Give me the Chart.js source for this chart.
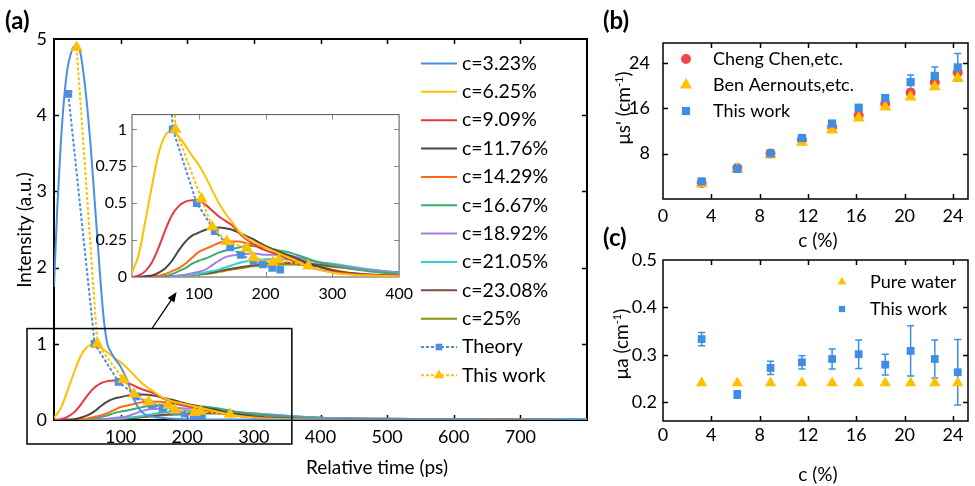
<!DOCTYPE html>
<html>
<head>
<meta charset="utf-8">
<script src="https://cdn.jsdelivr.net/npm/chart.js@4.4.1/dist/chart.umd.min.js"></script>
<style>
  body { margin: 0; background: #fff; }
  #wrap { position: relative; width: 975px; height: 486px; overflow: hidden; font-family: Lato, "Open Sans", sans-serif; }
  canvas { position: absolute; }
  .tag { position: absolute; font-weight: bold; font-size: 24px; line-height: 1; color: #000; }
  .title { position: absolute; transform: translate(-50%, -50%); white-space: nowrap; font-size: 19px; line-height: 1; color: #000; }
  .rot { transform: translate(-50%, -50%) rotate(-90deg); }
  sup { font-size: 11px; vertical-align: 7px; line-height: 0; }
</style>
</head>
<body>
<div id="wrap">
  <canvas id="mainChart" width="600" height="486" style="left:0;top:0"></canvas>
  <canvas id="insetChart" width="340" height="210" style="left:80px;top:100px"></canvas>
  <canvas id="musChart" width="375" height="252" style="left:600px;top:0"></canvas>
  <canvas id="muaChart" width="375" height="256" style="left:600px;top:230px"></canvas>

  <div class="tag" style="left:5px;top:8px">(a)</div>
  <div class="tag" style="left:603px;top:8px">(b)</div>
  <div class="tag" style="left:603px;top:225px">(c)</div>

  <div class="title" style="left:377px;top:466px">Relative time (ps)</div>
  <div class="title rot" style="left:23px;top:230px">Intensity (a.u.)</div>
  <div class="title" style="left:818px;top:239px">c (%)</div>
  <div class="title rot" style="left:622px;top:108px">μs' (cm<sup>-1</sup>)</div>
  <div class="title" style="left:818px;top:473px">c (%)</div>
  <div class="title rot" style="left:620px;top:344px">μa (cm<sup>-1</sup>)</div>
</div>

<script>
const FONT = 'Lato, "Open Sans", sans-serif';

// ---- panel (a): time-resolved curves ----
const timePs = [0, 10, 20, 30, 40, 50, 60, 70, 80, 90, 100, 110, 120, 130, 140, 150, 160, 170, 180, 190, 200,
  220, 240, 260, 280, 300, 330, 360, 400, 500, 600, 700, 800];
const timeC323 = [0, 5, 10, 15, 20, 25, 30, 35, 40, 45, 50, 55, 60, 65, 70, 75, 80, 85, 90,
  100, 110, 120, 130, 140, 160, 200, 300, 400, 500, 600, 700, 800];

const intC323 = [1.75, 2.8, 3.6, 4.2, 4.6, 4.8, 4.9, 4.9, 4.8, 4.5, 4.1, 3.6, 3.0, 2.4, 1.8, 1.3, 1.0, 0.9, 0.82,
  0.7, 0.52, 0.27, 0.12, 0.06, 0.03, 0.01, 0.005, 0.003, 0.002, 0.002, 0.001, 0.001];
const intC625 = [0.03, 0.15, 0.38, 0.62, 0.84, 0.96, 0.99, 0.95, 0.89, 0.82, 0.76, 0.68, 0.59, 0.5, 0.43, 0.37, 0.31, 0.27, 0.24, 0.22, 0.2,
  0.16, 0.12, 0.08, 0.05, 0.03, 0.015, 0.01, 0.005, 0.003, 0.002, 0.002, 0.001];
const intC909 = [0, 0.01, 0.04, 0.1, 0.2, 0.32, 0.42, 0.48, 0.51, 0.52, 0.52, 0.49, 0.45, 0.41, 0.38, 0.35, 0.3, 0.26, 0.23, 0.2, 0.18,
  0.15, 0.11, 0.08, 0.05, 0.035, 0.02, 0.015, 0.01, 0.005, 0.003, 0.002, 0.001];
const intC1176 = [0, 0, 0.005, 0.01, 0.03, 0.06, 0.11, 0.18, 0.24, 0.28, 0.3, 0.32, 0.33, 0.335, 0.33, 0.32, 0.3, 0.28, 0.26, 0.235, 0.21,
  0.17, 0.14, 0.1, 0.07, 0.045, 0.025, 0.015, 0.006, 0.004, 0.003, 0.002, 0.001];
const intC1429 = [0, 0, 0, 0.003, 0.008, 0.02, 0.04, 0.06, 0.09, 0.13, 0.17, 0.19, 0.21, 0.23, 0.24, 0.24, 0.24, 0.23, 0.22, 0.21, 0.2,
  0.17, 0.13, 0.1, 0.07, 0.05, 0.025, 0.012, 0.005, 0.003, 0.002, 0.002, 0.001];
const intC1667 = [0, 0, 0, 0, 0.002, 0.005, 0.02, 0.04, 0.06, 0.09, 0.11, 0.125, 0.145, 0.165, 0.18, 0.19, 0.2, 0.21, 0.21, 0.205, 0.2,
  0.18, 0.16, 0.13, 0.1, 0.08, 0.055, 0.035, 0.02, 0.01, 0.006, 0.004, 0.003];
const intC1892 = [0, 0, 0, 0, 0, 0.002, 0.005, 0.01, 0.015, 0.025, 0.035, 0.05, 0.08, 0.11, 0.135, 0.145, 0.15, 0.155, 0.16, 0.155, 0.15,
  0.15, 0.14, 0.12, 0.1, 0.085, 0.065, 0.045, 0.025, 0.012, 0.008, 0.006, 0.004];
const intC2105 = [0, 0, 0, 0, 0, 0, 0.002, 0.005, 0.01, 0.015, 0.02, 0.03, 0.04, 0.05, 0.065, 0.08, 0.095, 0.105, 0.112, 0.117, 0.12,
  0.12, 0.12, 0.11, 0.1, 0.09, 0.07, 0.05, 0.03, 0.015, 0.01, 0.008, 0.005];
const intC2308 = [0, 0, 0, 0, 0, 0.002, 0.005, 0.008, 0.012, 0.015, 0.02, 0.025, 0.03, 0.04, 0.05, 0.058, 0.065, 0.072, 0.078, 0.085, 0.09,
  0.095, 0.095, 0.09, 0.085, 0.075, 0.06, 0.045, 0.03, 0.015, 0.01, 0.008, 0.005];
const intC25 = [0, 0, 0, 0, 0, 0, 0.003, 0.005, 0.008, 0.01, 0.015, 0.02, 0.025, 0.035, 0.043, 0.05, 0.058, 0.065, 0.072, 0.077, 0.08,
  0.085, 0.085, 0.08, 0.075, 0.07, 0.055, 0.045, 0.03, 0.015, 0.01, 0.008, 0.005];

const curveLabels = ['c=3.23%', 'c=6.25%', 'c=9.09%', 'c=11.76%', 'c=14.29%', 'c=16.67%', 'c=18.92%', 'c=21.05%', 'c=23.08%', 'c=25%'];
const curveValues = [intC323, intC625, intC909, intC1176, intC1429, intC1667, intC1892, intC2105, intC2308, intC25];
const curveColors = ['#4a8fe3', '#ffc000', '#e8383d', '#484848', '#ff6a13', '#3aae6c', '#a97ddf', '#2fd0d0', '#7d4e43', '#8f8f0c'];

// peak markers (one per concentration)
const theoryTime = [21.5, 61, 97, 124, 147, 163, 182, 196, 210, 222];
const theoryInt = [4.28, 1.0, 0.5, 0.31, 0.2, 0.15, 0.11, 0.085, 0.062, 0.05];
const workTime = [34, 65, 104, 120, 142, 172, 182, 211, 220, 264];
const workInt = [4.89, 1.0, 0.53, 0.34, 0.24, 0.195, 0.13, 0.1, 0.115, 0.075];

// ---- panels (b) and (c) ----
// c positions as they sit on the printed axis
const conc = [3.2, 6.15, 8.9, 11.5, 14.0, 16.2, 18.4, 20.5, 22.5, 24.4];
const musChen = [2.8, 5.45, 8.0, 10.45, 12.7, 14.75, 16.8, 18.75, 20.6, 22.3];
const musAernouts = [2.7, 5.3, 7.8, 10.0, 12.15, 14.3, 16.2, 18.0, 19.8, 21.3];
const musWork = [3.1, 5.3, 8.05, 10.75, 13.3, 16.1, 17.8, 20.6, 21.7, 23.2];
const musWorkErr = [0.3, 0.3, 0.3, 0.4, 0.4, 0.5, 0.5, 1.25, 1.55, 2.45];
const muaWater = [0.24, 0.24, 0.24, 0.24, 0.24, 0.24, 0.24, 0.24, 0.24, 0.24];
const muaWork = [0.333, 0.216, 0.272, 0.284, 0.291, 0.301, 0.279, 0.308, 0.291, 0.263];
const muaWorkErr = [0.014, 0.008, 0.014, 0.014, 0.021, 0.03, 0.022, 0.053, 0.04, 0.069];

// tick values
const mainXTicks = [100, 200, 300, 400, 500, 600, 700];
const mainYTicks = [0, 1, 2, 3, 4, 5];
const insetXTicks = [100, 200, 300, 400];
const insetYTicks = [0, 0.25, 0.5, 0.75, 1];
const concTicks = [0, 4, 8, 12, 16, 20, 24];
const musTicks = [8, 16, 24];
const muaTicks = [0.2, 0.3, 0.4, 0.5];

const pts = (xs, ys) => xs.map((x, i) => ({ x, y: ys[i] }));
const useTicks = vals => s => { s.ticks = vals.map(v => ({ value: v })); };

// box round the plot with inward ticks
const framePlugin = {
  id: 'frame',
  beforeDatasetsDraw(chart, args, o) {
    const { ctx, chartArea: a } = chart;
    const xs = chart.scales.x, ys = chart.scales.y;
    ctx.save();
    ctx.strokeStyle = o.tickColor;
    ctx.lineWidth = o.tickWidth;
    ctx.beginPath();
    xs.ticks.forEach(t => {
      const p = Math.round(xs.getPixelForValue(t.value)) + 0.5;
      if (p < a.left + 2 || p > a.right - 2) return;
      ctx.moveTo(p, a.bottom); ctx.lineTo(p, a.bottom - o.len);
      ctx.moveTo(p, a.top); ctx.lineTo(p, a.top + o.len);
    });
    ys.ticks.forEach(t => {
      const p = Math.round(ys.getPixelForValue(t.value)) + 0.5;
      if (p < a.top + 2 || p > a.bottom - 2) return;
      ctx.moveTo(a.left, p); ctx.lineTo(a.left + o.len, p);
      ctx.moveTo(a.right, p); ctx.lineTo(a.right - o.len, p);
    });
    ctx.stroke();
    ctx.strokeStyle = o.color;
    ctx.lineWidth = o.width;
    ctx.strokeRect(a.left, a.top, a.width, a.height);
    ctx.restore();
  }
};

const errorBarPlugin = {
  id: 'errorBars',
  beforeDatasetsDraw(chart) {
    const { ctx } = chart;
    const xs = chart.scales.x, ys = chart.scales.y;
    chart.data.datasets.forEach(ds => {
      if (!ds.errors) return;
      ctx.save();
      ctx.strokeStyle = ds.backgroundColor;
      ctx.lineWidth = 1.5;
      ds.data.forEach((p, j) => {
        const x = xs.getPixelForValue(p.x);
        const top = ys.getPixelForValue(p.y + ds.errors[j]);
        const bot = ys.getPixelForValue(p.y - ds.errors[j]);
        ctx.beginPath();
        ctx.moveTo(x, top); ctx.lineTo(x, bot);
        ctx.moveTo(x - 3.5, top); ctx.lineTo(x + 3.5, top);
        ctx.moveTo(x - 3.5, bot); ctx.lineTo(x + 3.5, bot);
        ctx.stroke();
      });
      ctx.restore();
    });
  }
};

const keyPlugin = {
  id: 'key',
  afterDatasetsDraw(chart, args, o) {
    const { ctx } = chart;
    ctx.save();
    ctx.font = o.size + 'px ' + FONT;
    ctx.textBaseline = 'middle';
    chart.data.datasets.forEach((ds, i) => {
      const y = o.y + i * o.gap;
      const mid = o.x + o.lineLen / 2;
      if (o.lineLen > 0) {
        ctx.strokeStyle = ds.borderColor;
        ctx.lineWidth = ds.borderWidth;
        ctx.setLineDash(ds.borderDash || []);
        ctx.beginPath(); ctx.moveTo(o.x, y); ctx.lineTo(o.x + o.lineLen, y); ctx.stroke();
        ctx.setLineDash([]);
      }
      if (ds.pointRadius > 0) {
        ctx.fillStyle = ds.backgroundColor;
        ctx.strokeStyle = ds.backgroundColor;
        Chart.helpers.drawPoint(ctx, { pointStyle: ds.pointStyle, radius: ds.pointRadius * (o.markerScale || 1), rotation: 0, borderWidth: 0 }, mid, y);
      }
      ctx.fillStyle = '#000';
      ctx.fillText(ds.label, o.textX, y);
    });
    ctx.restore();
  }
};

// zoom rectangle round the low part of (a) and arrow to the inset
const zoomBoxPlugin = {
  id: 'zoomBox',
  afterDraw(chart, args, o) {
    const { ctx } = chart;
    const xs = chart.scales.x, ys = chart.scales.y;
    const left = xs.getPixelForValue(0) - 27, right = xs.getPixelForValue(o.tMax);
    const top = ys.getPixelForValue(o.iMax), bottom = ys.getPixelForValue(0) + 24;
    ctx.save();
    ctx.strokeStyle = '#000';
    ctx.lineWidth = 1.5;
    ctx.strokeRect(left, top, right - left, bottom - top);
    const x0 = xs.getPixelForValue(o.arrowFrom), y0 = top;
    const x1 = xs.getPixelForValue(o.arrowTo[0]), y1 = ys.getPixelForValue(o.arrowTo[1]);
    const ang = Math.atan2(y1 - y0, x1 - x0);
    ctx.lineWidth = 1.2;
    ctx.beginPath(); ctx.moveTo(x0, y0); ctx.lineTo(x1 - 8 * Math.cos(ang), y1 - 8 * Math.sin(ang)); ctx.stroke();
    ctx.fillStyle = '#000';
    ctx.beginPath();
    ctx.moveTo(x1, y1);
    ctx.lineTo(x1 - 10 * Math.cos(ang) + 4 * Math.sin(ang), y1 - 10 * Math.sin(ang) - 4 * Math.cos(ang));
    ctx.lineTo(x1 - 10 * Math.cos(ang) - 4 * Math.sin(ang), y1 - 10 * Math.sin(ang) + 4 * Math.cos(ang));
    ctx.closePath(); ctx.fill();
    ctx.restore();
  }
};

function curveSets(from) {
  const sets = [];
  for (let i = from; i < curveLabels.length; i++) {
    sets.push({
      label: curveLabels[i],
      data: pts(i === 0 ? timeC323 : timePs, curveValues[i]),
      borderColor: curveColors[i], backgroundColor: curveColors[i],
      borderWidth: 2, pointRadius: 0, cubicInterpolationMode: 'monotone', order: 2
    });
  }
  sets.push({
    label: 'Theory', data: pts(theoryTime, theoryInt),
    borderColor: '#4a8fe3', backgroundColor: '#4a8fe3', borderWidth: 2, borderDash: [3, 2],
    pointStyle: 'rect', pointRadius: 5.5, pointBorderWidth: 0, tension: 0, order: 1
  });
  sets.push({
    label: 'This work', data: pts(workTime, workInt),
    borderColor: '#ffc000', backgroundColor: '#ffc000', borderWidth: 2, borderDash: [3, 2],
    pointStyle: 'triangle', pointRadius: 7, pointBorderWidth: 0, tension: 0, order: 0
  });
  return sets;
}

const tickFont = size => ({ family: FONT, size });
const hiddenGrid = { display: false, drawTicks: false };

new Chart(document.getElementById('mainChart'), {
  type: 'line',
  data: { datasets: curveSets(0) },
  options: {
    responsive: false, animation: false, events: [],
    layout: { padding: { left: 0, right: 13, top: 39, bottom: 0 } },
    plugins: {
      legend: { display: false }, tooltip: { enabled: false },
      frame: { color: '#000', width: 2, tickColor: '#000', tickWidth: 1.5, len: 5 },
      key: { x: 421, y: 63.5, gap: 28.35, lineLen: 36, textX: 462, size: 19.5, markerScale: 0.85 },
      zoomBox: { tMax: 357, iMax: 1.2, arrowFrom: 147, arrowTo: [184, 1.68] }
    },
    scales: {
      x: {
        type: 'linear', min: 0, max: 800,
        afterFit: s => { s.height = 66; },
        afterBuildTicks: useTicks(mainXTicks),
        grid: hiddenGrid, border: { display: false },
        ticks: { padding: 6, color: '#000', font: tickFont(18) }
      },
      y: {
        min: 0, max: 5,
        afterFit: s => { s.width = 54; },
        afterBuildTicks: useTicks(mainYTicks),
        grid: hiddenGrid, border: { display: false },
        ticks: { padding: 7, color: '#000', font: tickFont(18) }
      }
    }
  },
  plugins: [framePlugin, keyPlugin, zoomBoxPlugin]
});

new Chart(document.getElementById('insetChart'), {
  type: 'line',
  data: { datasets: curveSets(1) },
  options: {
    responsive: false, animation: false, events: [],
    layout: { padding: { left: 0, right: 16, top: 13, bottom: 0 } },
    plugins: {
      legend: { display: false }, tooltip: { enabled: false },
      frame: { color: '#555', width: 1, tickColor: '#888', tickWidth: 1, len: 5 }
    },
    scales: {
      x: {
        type: 'linear', min: 0, max: 400,
        afterFit: s => { s.height = 33; },
        afterBuildTicks: useTicks(insetXTicks),
        grid: hiddenGrid, border: { display: false },
        ticks: { padding: 7, color: '#000', font: tickFont(16) }
      },
      y: {
        min: 0, max: 1.1,
        afterFit: s => { s.width = 52; },
        afterBuildTicks: useTicks(insetYTicks),
        grid: hiddenGrid, border: { display: false },
        ticks: { padding: 5, color: '#000', font: tickFont(16), callback: v => String(v) }
      }
    }
  },
  plugins: [framePlugin]
});

const concAxis = (height, pad) => ({
  type: 'linear', min: 0, max: 25.25,
  afterFit: s => { s.height = height; },
  afterBuildTicks: useTicks(concTicks),
  grid: hiddenGrid, border: { display: false },
  ticks: { padding: pad, color: '#000', font: tickFont(18) }
});

new Chart(document.getElementById('musChart'), {
  type: 'scatter',
  data: {
    datasets: [
      { label: 'Cheng Chen,etc.', data: pts(conc, musChen), backgroundColor: '#f0474b', borderColor: '#f0474b',
        pointStyle: 'circle', pointRadius: 5, pointBorderWidth: 0, order: 2 },
      { label: 'Ben Aernouts,etc.', data: pts(conc, musAernouts), backgroundColor: '#ffc000', borderColor: '#ffc000',
        pointStyle: 'triangle', pointRadius: 7, pointBorderWidth: 0, order: 1 },
      { label: 'This work', data: pts(conc, musWork), errors: musWorkErr, backgroundColor: '#3e8ee3', borderColor: '#3e8ee3',
        pointStyle: 'rect', pointRadius: 5.8, pointBorderWidth: 0, order: 0 }
    ]
  },
  options: {
    responsive: false, animation: false, events: [],
    layout: { padding: { left: 0, right: 7, top: 43, bottom: 0 } },
    plugins: {
      legend: { display: false }, tooltip: { enabled: false },
      frame: { color: '#000', width: 1.5, tickColor: '#000', tickWidth: 1.5, len: 5 },
      key: { x: 86, y: 59, gap: 26, lineLen: 0, textX: 113, size: 18 }
    },
    scales: {
      x: concAxis(53, 6),
      y: {
        min: 0, max: 27.5,
        afterFit: s => { s.width = 63; },
        afterBuildTicks: useTicks(musTicks),
        grid: hiddenGrid, border: { display: false },
        ticks: { padding: 13, color: '#000', font: tickFont(18) }
      }
    }
  },
  plugins: [framePlugin, errorBarPlugin, keyPlugin]
});

new Chart(document.getElementById('muaChart'), {
  type: 'scatter',
  data: {
    datasets: [
      { label: 'Pure water', data: pts(conc, muaWater), backgroundColor: '#ffc000', borderColor: '#ffc000',
        pointStyle: 'triangle', pointRadius: 6.5, pointBorderWidth: 0, order: 1 },
      { label: 'This work', data: pts(conc, muaWork), errors: muaWorkErr, backgroundColor: '#3e8ee3', borderColor: '#3e8ee3',
        pointStyle: 'rect', pointRadius: 5.5, pointBorderWidth: 0, order: 0 }
    ]
  },
  options: {
    responsive: false, animation: false, events: [],
    layout: { padding: { left: 0, right: 7, top: 30, bottom: 0 } },
    plugins: {
      legend: { display: false }, tooltip: { enabled: false },
      frame: { color: '#000', width: 1.5, tickColor: '#000', tickWidth: 1.5, len: 5 },
      key: { x: 242, y: 52, gap: 27, lineLen: 0, textX: 270, size: 18, markerScale: 0.8 }
    },
    scales: {
      x: concAxis(65, 3),
      y: {
        min: 0.16, max: 0.5,
        afterFit: s => { s.width = 63; },
        afterBuildTicks: useTicks(muaTicks),
        grid: hiddenGrid, border: { display: false },
        ticks: { padding: 6, color: '#000', font: tickFont(18), callback: v => v.toFixed(1) }
      }
    }
  },
  plugins: [framePlugin, errorBarPlugin, keyPlugin]
});
</script>
</body>
</html>
